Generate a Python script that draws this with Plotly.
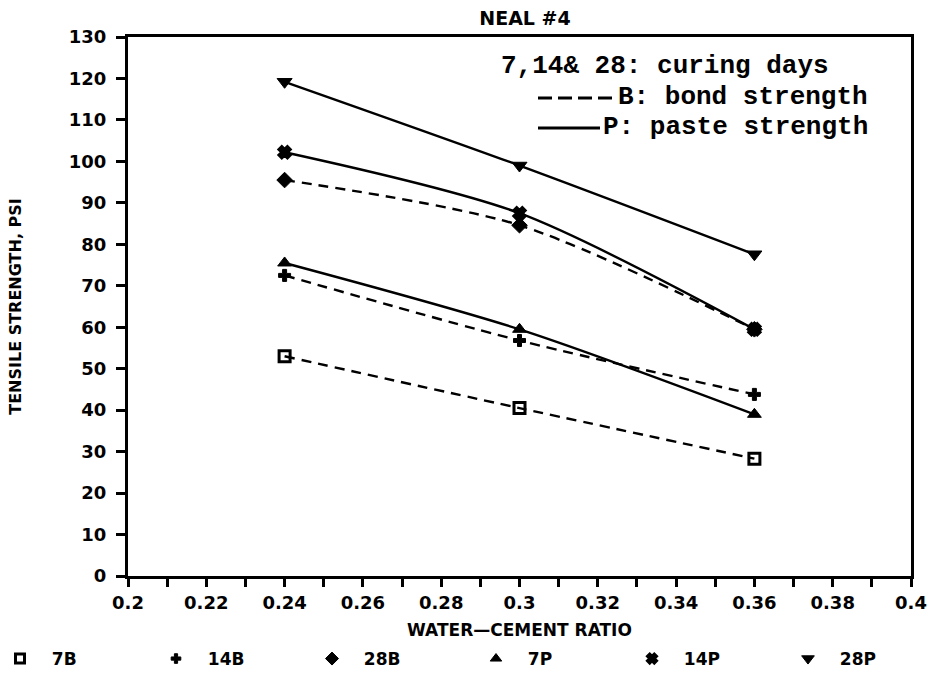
import plotly.graph_objects as go

# Water-cement ratios tested
wc_ratio = [0.24, 0.30, 0.36]

# Tensile strength (psi): B = bond strength, P = paste strength; 7/14/28 = curing days
bond_7 = [53.0, 40.5, 28.3]
bond_14 = [72.5, 56.8, 43.8]
bond_28 = [95.5, 84.6, 59.5]
paste_7 = [75.5, 59.5, 39.0]
paste_14 = [102.2, 87.5, 59.5]
paste_28 = [119.2, 99.0, 77.6]

series = [
    ("7B", bond_7, "square-open", 11, "dash", "legend"),
    ("14B", bond_14, "cross", 10, "dash", "legend"),
    ("28B", bond_28, "diamond", 12, "dash", "legend"),
    ("7P", paste_7, "triangle-up", 12, "solid", "legend2"),
    ("14P", paste_14, "x", 10, "solid", "legend2"),
    ("28P", paste_28, "triangle-down", 13, "solid", "legend2"),
]

x_ticks = [0.2, 0.22, 0.24, 0.26, 0.28, 0.3, 0.32, 0.34, 0.36, 0.38, 0.4]
x_tick_text = ["0.2", "0.22", "0.24", "0.26", "0.28", "0.3", "0.32", "0.34", "0.36", "0.38", "0.4"]
y_ticks = list(range(0, 131, 10))

INK = "#000000"
BOLD = dict(family="DejaVu Sans, Liberation Sans, sans-serif", color=INK, weight="bold")
MONO = dict(family="Liberation Mono, DejaVu Sans Mono, monospace", color=INK, weight="bold")

W, H = 928, 674
L, R, T, B = 128, 17, 37, 98
PW, PH = W - L - R, H - T - B

fig = go.Figure()
for name, vals, sym, size, dash, leg in series:
    # curve through the measured points
    fig.add_trace(go.Scatter(
        x=wc_ratio, y=vals, mode="lines+markers", name=name, showlegend=False,
        line=dict(color=INK, width=2.4, dash="10px,7px" if dash == "dash" else "solid",
                  shape="spline", smoothing=0.8),
        marker=dict(symbol=sym, size=size, color=INK,
                    line=dict(color=INK, width=3 if sym in ("square-open", "x") else 1)),
    ))
    # legend key: marker only
    fig.add_trace(go.Scatter(
        x=[None], y=[None], mode="markers", name="\u00a0\u00a0" + name, legend=leg,
        marker=dict(symbol=sym, size=size - 2, color=INK,
                    line=dict(color=INK, width=3 if sym in ("square-open", "x") else 1)),
    ))


# Key text for line styles and curing days
def px_x(p):
    return (p - L) / PW


def px_y(p):
    return (H - B - p) / PH


annotations = [
    dict(text="7,14& 28: curing days", x=px_x(499), y=px_y(66)),
    dict(text="B: bond strength", x=px_x(616), y=px_y(97)),
    dict(text="P: paste strength", x=px_x(601), y=px_y(127)),
]
for a in annotations:
    fig.add_annotation(xref="paper", yref="paper", xanchor="left", yanchor="middle",
                       showarrow=False, font=dict(size=26, **MONO), **a)

fig.add_shape(type="line", xref="paper", yref="paper",
              x0=px_x(538), x1=px_x(614), y0=px_y(98), y1=px_y(98),
              line=dict(color=INK, width=3, dash="14px,6px"))
fig.add_shape(type="line", xref="paper", yref="paper",
              x0=px_x(538), x1=px_x(600), y0=px_y(128), y1=px_y(128),
              line=dict(color=INK, width=3))

legend_common = dict(orientation="h", xanchor="left", xref="container", yref="container",
                     y=1 - 659 / H, yanchor="middle",
                     entrywidth=111, entrywidthmode="pixels", itemwidth=30,
                     font=dict(size=17, **BOLD), bgcolor="rgba(0,0,0,0)")

fig.update_layout(
    width=W, height=H,
    margin=dict(l=L, r=R, t=T, b=B, autoexpand=False),
    paper_bgcolor="white", plot_bgcolor="white",
    title=dict(text="NEAL #4", x=525 / W, xanchor="center",
               y=1 - 18 / H, yanchor="middle", font=dict(size=19, **BOLD)),
    showlegend=True,
    legend=dict(x=-25 / W, **legend_common),
    legend2=dict(x=476 / W, **legend_common),
    xaxis=dict(
        range=[0.2, 0.4], tickmode="array", tickvals=x_ticks, ticktext=x_tick_text,
        ticks="outside", ticklen=8, tickwidth=2.5, tickcolor=INK,
        minor=dict(dtick=0.01, tick0=0.2, ticks="outside", ticklen=8, tickwidth=2.5, tickcolor=INK),
        showline=True, linewidth=3, linecolor=INK, mirror=True, showgrid=False, zeroline=False,
        tickfont=dict(size=18, **BOLD), automargin=False,
        title=dict(text="WATER\u2014CEMENT RATIO", font=dict(size=17, **BOLD), standoff=13),
    ),
    yaxis=dict(
        range=[0, 130], tickmode="array", tickvals=y_ticks,
        ticks="outside", ticklen=9, tickwidth=2.5, tickcolor=INK, ticklabelstandoff=6,
        showline=True, linewidth=3, linecolor=INK, mirror=True, showgrid=False, zeroline=False,
        tickfont=dict(size=18, **BOLD), automargin=False,
        title=dict(text="TENSILE STRENGTH, PSI", font=dict(size=16, **BOLD), standoff=44),
    ),
)

fig.write_html("out.html")
